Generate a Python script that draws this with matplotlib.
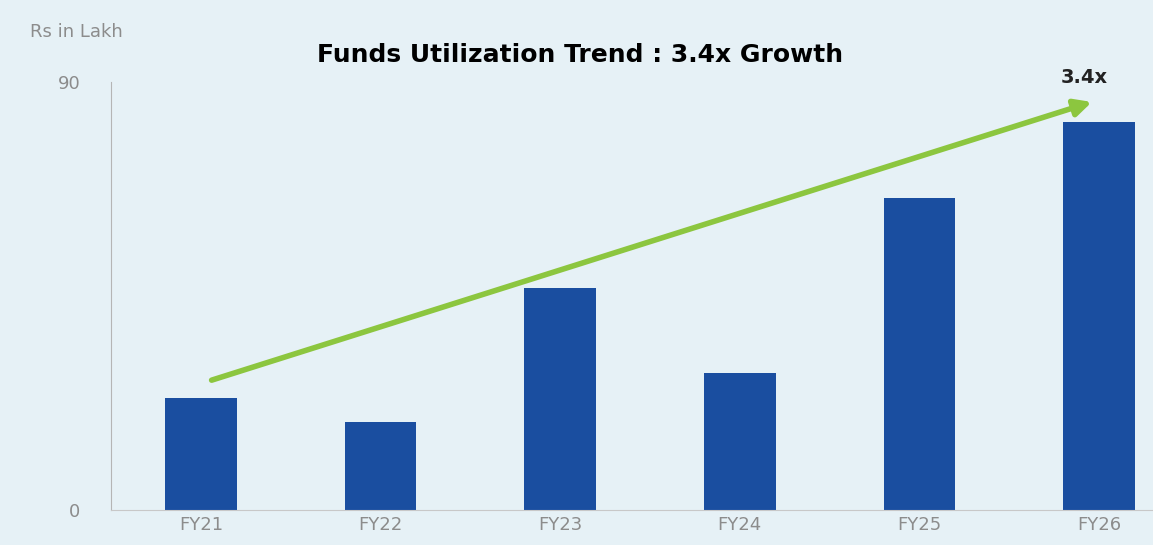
import numpy as np
import matplotlib.pyplot as plt
import matplotlib as mpl

mpl.rcParams['font.family'] = 'DejaVu Sans'

# data
years = ['FY21', 'FY22', 'FY23', 'FY24', 'FY25', 'FY26']
funds = [23.5, 18.5, 46.7, 28.8, 65.6, 81.6]  # Rs in Lakh
y_ticks = [0, 90]

bg = '#e6f1f6'
bar_color = '#1a4ea0'
arrow_color = '#8cc63f'
grey = '#8c8c8c'

fig = plt.figure(figsize=(11.53, 5.45), dpi=100, facecolor=bg)
ax = fig.add_axes([111/1153, 35/545, 1 - 111/1153, (510-35)/545], facecolor=bg)

x = np.arange(len(years))
ax.bar(x, funds, width=0.4, color=bar_color, zorder=2)

ax.set_xlim(-0.5, 5.3)
ax.set_ylim(0, 90*(510-35)/(510-82))
ax.set_yticks(y_ticks)
ax.set_xticks(x)
ax.set_xticklabels(years)
ax.tick_params(axis='both', length=0, colors=grey, labelsize=13)
ax.tick_params(axis='y', pad=22)
ax.tick_params(axis='x', pad=4)

for s in ['top', 'right']:
    ax.spines[s].set_visible(False)
ax.spines['left'].set_color('#b5b5b5')
ax.spines['bottom'].set_color('#c8c8c8')
ax.spines['left'].set_bounds(0, 90)

# growth arrow from FY21 up to FY26
ax.annotate('', xy=(4.96, 85.8), xytext=(0.06, 27.3),
            arrowprops=dict(arrowstyle='-|>,head_length=1.0,head_width=0.5',
                            color=arrow_color, lw=4, shrinkA=0, shrinkB=0),
            zorder=3)
ax.text(4.92, 91.0, '3.4x', fontsize=14, fontweight='bold', color='#222222',
        ha='center', va='center')

fig.text(30/1153, 1 - 32/545, 'Rs in Lakh', fontsize=13, color=grey,
         ha='left', va='center')
fig.text(580/1153, 1 - 55/545, 'Funds Utilization Trend : 3.4x Growth',
         fontsize=18, fontweight='bold', color='black', ha='center', va='center')

fig.savefig('out.png', dpi=100, facecolor=bg)
